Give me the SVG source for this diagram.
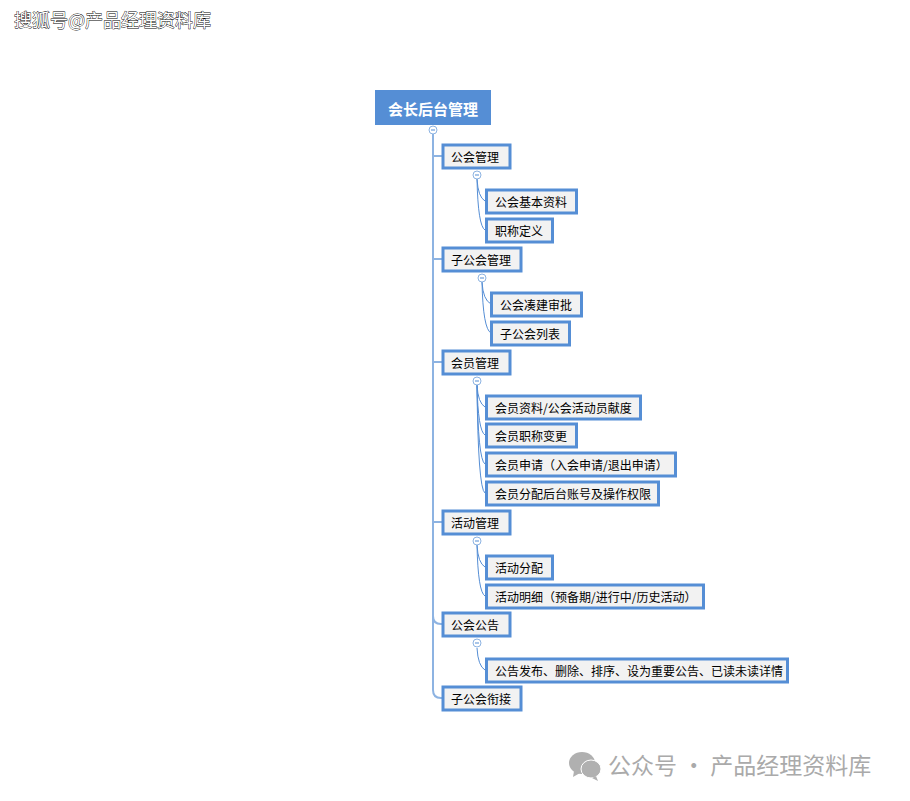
<svg xmlns="http://www.w3.org/2000/svg" width="910" height="801" viewBox="0 0 910 801">
<style>
text{font-family:"Noto Sans CJK SC","Liberation Sans",sans-serif}
.n rect{fill:#f2f2f2;stroke:#558ed5;stroke-width:3}
.n text{font-size:12px;fill:#000;dominant-baseline:central}
.c{fill:none;stroke:#558ed5;stroke-width:1}
.t{fill:none;stroke:#8db3e2;stroke-width:2}
.b circle{fill:#fff;stroke:#8db3e2;stroke-width:1}
.b path{stroke:#8db3e2;stroke-width:1.5}
</style>
<rect width="910" height="801" fill="#fff"/>
<g id="connectors">
<path class="t" d="M433 134V690Q433 698 441 698H442" stroke="#558ed5"/>
<path class="t" d="M433 156H442M433 259H442M433 362H442M433 522Q433 522 442 522M433 616Q433 624 441 624H442"/>
<path class="c" d="M477 179Q478 197 485 201M477 179Q478 226 485 230M482 282Q483 300 491 304M482 282Q483 329 491 333M477 385Q478 403 485 407M477 385Q478 431 485 435M477 385Q478 460 485 464M477 385Q478 489 485 493M477 545Q478 563 485 567M477 545Q478 592 485 596M477 648Q478 666 485 670"/>
</g>
<g id="toggles" class="b">
<g><circle cx="433" cy="130" r="4"/><path d="M431 130H435"/></g>
<g><circle cx="477" cy="175" r="4"/><path d="M475 175H479"/></g>
<g><circle cx="482" cy="278" r="4"/><path d="M480 278H484"/></g>
<g><circle cx="477" cy="381" r="4"/><path d="M475 381H479"/></g>
<g><circle cx="477" cy="541" r="4"/><path d="M475 541H479"/></g>
<g><circle cx="477" cy="643" r="4"/><path d="M475 643H479"/></g>
</g>
<g id="root"><rect x="375" y="90" width="116" height="35" fill="#558ed5"/><text x="433" y="108" font-size="15" font-weight="700" fill="#fff" text-anchor="middle" dominant-baseline="central">会长后台管理</text></g>
<g id="n1" class="n"><rect x="443" y="145" width="67" height="23"/><text x="451" y="156.500">公会管理</text></g>
<g id="n2" class="n"><rect x="486.500" y="190" width="90" height="23"/><text x="495" y="201.500">公会基本资料</text></g>
<g id="n3" class="n"><rect x="486.500" y="219" width="66" height="23"/><text x="495" y="230.500">职称定义</text></g>
<g id="n4" class="n"><rect x="443" y="248" width="78" height="23"/><text x="451" y="259.500">子公会管理</text></g>
<g id="n5" class="n"><rect x="491.500" y="293" width="90" height="23"/><text x="500" y="304.500">公会凑建审批</text></g>
<g id="n6" class="n"><rect x="491.500" y="322" width="78" height="23"/><text x="500" y="333.500">子公会列表</text></g>
<g id="n7" class="n"><rect x="443" y="351" width="67" height="23"/><text x="451" y="362.500">会员管理</text></g>
<g id="n8" class="n"><rect x="486.500" y="396" width="154" height="23"/><text x="495" y="407.500">会员资料/公会活动员献度</text></g>
<g id="n9" class="n"><rect x="486.500" y="424" width="90" height="23"/><text x="495" y="435.500">会员职称变更</text></g>
<g id="n10" class="n"><rect x="486.500" y="453" width="189" height="23"/><text x="495" y="464.500">会员申请（入会申请/退出申请）</text></g>
<g id="n11" class="n"><rect x="486.500" y="482" width="172" height="23"/><text x="495" y="493.500">会员分配后台账号及操作权限</text></g>
<g id="n12" class="n"><rect x="443" y="511" width="67" height="23"/><text x="451" y="522.500">活动管理</text></g>
<g id="n13" class="n"><rect x="486.500" y="556" width="66" height="23"/><text x="495" y="567.500">活动分配</text></g>
<g id="n14" class="n"><rect x="486.500" y="585" width="217" height="23"/><text x="495" y="596.500">活动明细（预备期/进行中/历史活动）</text></g>
<g id="n15" class="n"><rect x="443" y="613" width="67" height="23"/><text x="451" y="624.500">公会公告</text></g>
<g id="n16" class="n"><rect x="486.500" y="659" width="301" height="23"/><text x="495" y="670.500">公告发布、删除、排序、设为重要公告、已读未读详情</text></g>
<g id="n17" class="n"><rect x="443" y="687" width="78" height="23"/><text x="451" y="698.500">子公会衔接</text></g>
<text x="14" y="27" font-size="18" fill="#fff" stroke="#000" stroke-width=".8" paint-order="stroke">搜狐号@产品经理资料库</text>
<g id="wechat" fill="#b0b0b0"><ellipse cx="582" cy="763" rx="13" ry="11"/><path d="M574 771l-1 6 7-4z"/><ellipse cx="591" cy="769" rx="10" ry="9" stroke="#fff"/><path d="M596 776l2 5-6-3z"/></g>
<text x="608" y="774" font-size="23" fill="#aaa">公众号 · 产品经理资料库</text>
</svg>
